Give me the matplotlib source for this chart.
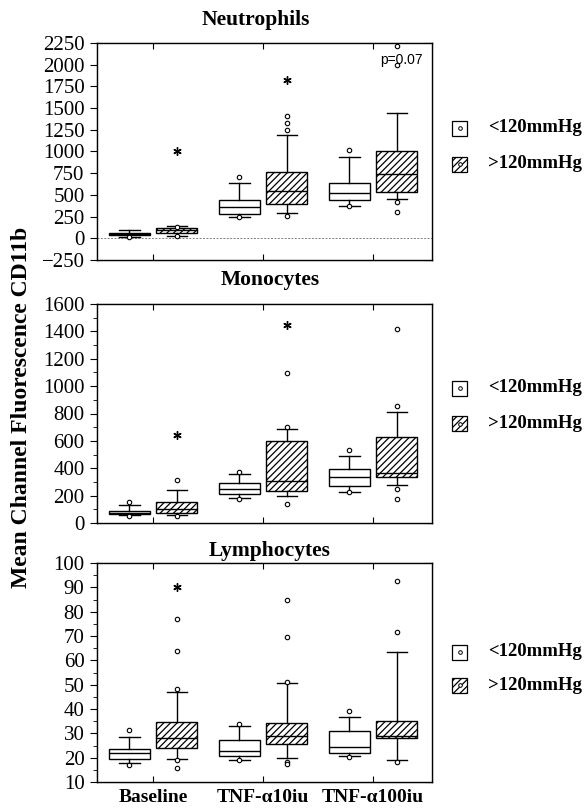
import matplotlib
matplotlib.use("Agg")
import matplotlib.pyplot as plt
from matplotlib.patches import Rectangle
from matplotlib.lines import Line2D
from matplotlib.ticker import MultipleLocator

# ---------------- data ----------------
categories = ["Baseline", "TNF-\u03b110iu", "TNF-\u03b1100iu"]
series_labels = ["<120mmHg", ">120mmHg"]

# each box: [whisker_low, q1, median, q3, whisker_high]
neut_lt = [[10, 42, 55, 65, 96], [245, 280, 360, 441, 637], [372, 441, 522, 637, 937]]
neut_gt = [[27, 58, 92, 115, 142], [290, 395, 540, 764, 1195], [453, 534, 741, 1006, 1444]]
neut_lt_fliers = [[20], [706, 240], [1017, 372]]
neut_gt_fliers = [[30, 130], [1250, 1330, 1410, 260], [2215, 1997, 418, 303]]
neut_star_x = [1, 2]
neut_star_y = [1000, 1820]

mono_lt = [[55, 63, 75, 88, 132], [183, 212, 248, 290, 358], [229, 270, 334, 392, 490]]
mono_gt = [[58, 75, 100, 156, 240], [195, 236, 309, 600, 690], [278, 334, 368, 626, 814]]
mono_lt_fliers = [[153, 51], [375, 175], [534, 225]]
mono_gt_fliers = [[314, 50], [1096, 700, 140], [1418, 855, 248, 178]]
mono_star_x = [1, 2]
mono_star_y = [640, 1450]

lymph_lt = [[17.8, 19.6, 21.9, 23.4, 28.5], [19.2, 20.6, 22.8, 27.4, 32.9], [20.8, 21.9, 24.4, 31.1, 36.7]]
lymph_gt = [[19.6, 24.1, 28.1, 34.8, 47.0], [19.9, 25.5, 28.8, 34.4, 50.7], [19.2, 28.2, 28.8, 35.1, 63.6]]
lymph_lt_fliers = [[31.3, 16.9], [34.0, 19.2], [39.1, 20.3]]
lymph_gt_fliers = [[48.1, 63.8, 76.9, 15.8, 19.2], [50.9, 69.5, 84.6, 18.2, 17.5], [71.6, 92.7, 18.2]]
lymph_star_x = [1]
lymph_star_y = [90]

panel_titles = ["Neutrophils", "Monocytes", "Lymphocytes"]
y_label = "Mean Channel Fluorescence CD11b"
p_text = "p=0.07"

# ---------------- style ----------------
W, H = 585, 810
plt.rcParams['font.family'] = ['Liberation Serif', 'DejaVu Serif']
plt.rcParams['hatch.linewidth'] = 0.9

fig = plt.figure(figsize=(W / 100, H / 100), dpi=100)


def fx(px):
    return px / W


def fy(py):
    return 1 - py / H


def make_stats(boxes, fliers):
    out = []
    for b, f in zip(boxes, fliers):
        out.append(dict(whislo=b[0], q1=b[1], med=b[2], q3=b[3], whishi=b[4], fliers=f))
    return out


panels = [
    dict(title=panel_titles[0], lt=neut_lt, gt=neut_gt, ltf=neut_lt_fliers, gtf=neut_gt_fliers,
         sx=neut_star_x, sy=neut_star_y, top=43, bottom=260, ylim=(-250, 2250), major=250, minor=None,
         rstep=250, leg=(128, 164), tx=256, ty=20),
    dict(title=panel_titles[1], lt=mono_lt, gt=mono_gt, ltf=mono_lt_fliers, gtf=mono_gt_fliers,
         sx=mono_star_x, sy=mono_star_y, top=304, bottom=523, ylim=(0, 1600), major=200, minor=100,
         rstep=100, leg=(388, 424), tx=270, ty=280),
    dict(title=panel_titles[2], lt=lymph_lt, gt=lymph_gt, ltf=lymph_lt_fliers, gtf=lymph_gt_fliers,
         sx=lymph_star_x, sy=lymph_star_y, top=563, bottom=782, ylim=(10, 100), major=10, minor=5,
         rstep=5, leg=(652, 685), tx=270, ty=551),
]

left_px, right_px = 97, 432
pos = [1, 2, 3]
off = 0.215
bw = 0.37

axes = []
for i, p in enumerate(panels):
    ax = fig.add_axes([fx(left_px), fy(p['bottom']), fx(right_px) - fx(left_px),
                       (p['bottom'] - p['top']) / H])
    axes.append(ax)
    flierprops = dict(marker='o', markersize=3.2, markerfacecolor='white', markeredgecolor='black',
                      markeredgewidth=0.8, linestyle='none')
    common = dict(widths=bw, capwidths=bw * 0.5, patch_artist=True, showfliers=True,
                  whiskerprops=dict(color='black', lw=1.0), capprops=dict(color='black', lw=1.0),
                  medianprops=dict(color='black', lw=1.0), flierprops=flierprops)
    ax.bxp(make_stats(p['lt'], p['ltf']), positions=[x - off for x in pos],
           boxprops=dict(facecolor='white', edgecolor='black', lw=1.0), **common)
    ax.bxp(make_stats(p['gt'], p['gtf']), positions=[x + off for x in pos],
           boxprops=dict(facecolor='white', edgecolor='black', lw=1.0, hatch='/////'), **common)
    ax.plot([x + off for x in p['sx']], p['sy'], linestyle='none', marker=(6, 2, 0),
            markersize=6, color='black', markeredgewidth=1.0)

    ax.set_xlim(0.49, 3.535)
    ax.set_ylim(*p['ylim'])
    ax.yaxis.set_major_locator(MultipleLocator(p['major']))
    if p['minor']:
        ax.yaxis.set_minor_locator(MultipleLocator(p['minor']))
    ax.set_xticks(pos)
    if i == 2:
        ax.set_xticklabels(categories, fontsize=14, fontweight='bold')
    else:
        ax.set_xticklabels([])
    ax.tick_params(axis='x', direction='in', top=True, bottom=True, length=4, width=0.8, pad=5)
    ax.tick_params(axis='y', which='major', direction='out', left=True, right=False, length=5,
                   width=0.8, labelsize=15, pad=4)
    ax.tick_params(axis='y', which='minor', direction='out', left=True, right=False, length=3, width=0.6)
    for s in ax.spines.values():
        s.set_linewidth(1.0)

    # right-side inward ticks
    axr = ax.twinx()
    axr.set_ylim(*p['ylim'])
    axr.yaxis.set_major_locator(MultipleLocator(p['rstep']))
    axr.tick_params(axis='y', which='both', direction='in', length=5, width=0.8, labelright=False)
    axr.set_zorder(ax.get_zorder() - 1)

    fig.text(fx(p['tx']), fy(p['ty']), p['title'], fontsize=15.5,
             fontweight='bold', ha='center', va='center')

    # legend drawn in figure space
    for j, ly in enumerate(p['leg']):
        sq = 15
        rect = Rectangle((fx(452), fy(ly + sq / 2)), sq / W, sq / H, transform=fig.transFigure,
                         facecolor='white', edgecolor='black', lw=0.9,
                         hatch='/////' if j == 1 else None)
        fig.add_artist(rect)
        fig.add_artist(Line2D([fx(459.5)], [fy(ly)], transform=fig.transFigure, marker='o',
                              markersize=2.6, markerfacecolor='white', markeredgecolor='black',
                              markeredgewidth=0.7, linestyle='none'))
        fig.text(fx(488), fy(ly), series_labels[j], fontsize=13.5, fontweight='bold',
                 va='center', ha='left')

# zero reference line in neutrophils
axes[0].axhline(0, color='gray', lw=0.7, linestyle=(0, (2, 1.5)), zorder=0)
axes[0].text(3.26, 2050, p_text, fontsize=10, ha='center', va='center',
             family=['Liberation Sans', 'DejaVu Sans'])

fig.text(fx(22), fy(407), y_label, rotation=90, fontsize=17, fontweight='bold',
         ha='center', va='center')

fig.savefig("out.png", dpi=100)
